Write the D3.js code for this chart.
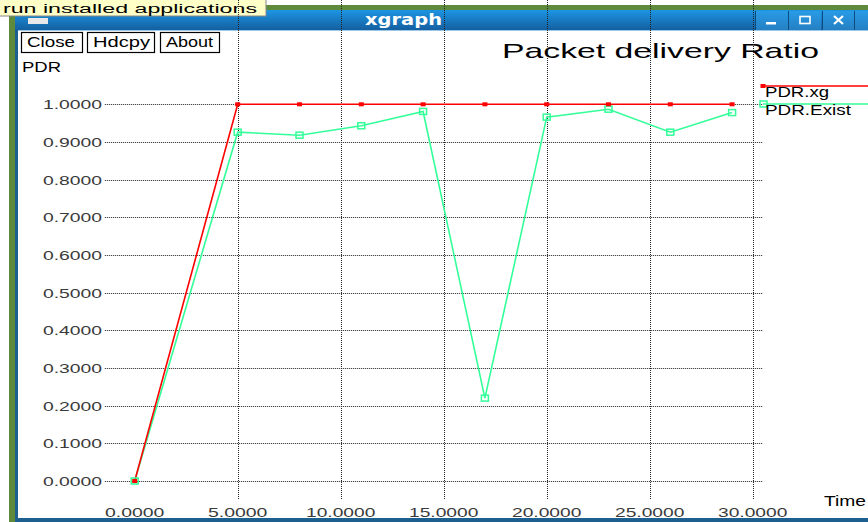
<!DOCTYPE html>
<html>
<head>
<meta charset="utf-8">
<script src="https://cdn.jsdelivr.net/npm/d3@7/dist/d3.min.js"></script>
<style>
body { margin: 0; background: #fff; }
svg { display: block; }
</style>
</head>
<body>
<div id="chart"></div>
<script>
// data
var timeVals = [0, 5, 8, 11, 14, 17, 20, 23, 26, 29];
var pdrXg = [0, 1, 1, 1, 1, 1, 1, 1, 1, 1];
var pdrExist = [0, 0.926, 0.918, 0.943, 0.981, 0.220, 0.966, 0.987, 0.926, 0.978];
var xTicks = [0, 5, 10, 15, 20, 25, 30];
var yTicks = [0, 0.1, 0.2, 0.3, 0.4, 0.5, 0.6, 0.7, 0.8, 0.9, 1.0];
var seriesNames = ["PDR.xg", "PDR.Exist"];
var seriesColors = ["#ff0000", "#33ff99"];
var buttonNames = ["Close", "Hdcpy", "About"];

var W = 868, H = 522;

var svg = d3.select("#chart")
  .append("svg")
  .attr("width", W)
  .attr("height", H);

// xgraph fonts look wide, so texts get stretched to the width seen
function fit(sel, w) {
  sel.attr("textLength", w).attr("lengthAdjust", "spacingAndGlyphs");
  return sel;
}

// ---- window chrome ----
svg.append("rect").attr("x", 0).attr("y", 0).attr("width", W).attr("height", H).attr("fill", "#fff");
svg.append("rect").attr("x", 0).attr("y", 5).attr("width", W).attr("height", 5).attr("fill", "#5f8a3c");
svg.append("rect").attr("x", 9).attr("y", 5).attr("width", 7).attr("height", H).attr("fill", "#5f8a3c");
svg.append("rect").attr("x", 15).attr("y", 10).attr("width", 3).attr("height", H).attr("fill", "#1d5f8e");

var grad = svg.append("defs").append("linearGradient")
  .attr("id", "tbar").attr("x1", 0).attr("y1", 0).attr("x2", 0).attr("y2", 1);
grad.append("stop").attr("offset", "0%").attr("stop-color", "#1c95e4");
grad.append("stop").attr("offset", "100%").attr("stop-color", "#145d9c");

svg.append("rect").attr("x", 15).attr("y", 10).attr("width", W - 15).attr("height", 21).attr("fill", "url(#tbar)");
svg.append("rect").attr("x", 18).attr("y", 30).attr("width", W - 18).attr("height", 1).attr("fill", "#9cc8e8");
svg.append("rect").attr("x", 28).attr("y", 18).attr("width", 20).attr("height", 6).attr("fill", "#e8e8e8");

fit(svg.append("text")
  .attr("x", 365).attr("y", 25)
  .attr("font-family", "DejaVu Sans").attr("font-weight", "bold")
  .attr("font-size", 15).attr("fill", "#fff")
  .text("xgraph"), 77);

// title bar buttons
var tbBtns = [755, 788, 822, 854];
tbBtns.forEach(function (x) {
  svg.append("rect").attr("x", x).attr("y", 11).attr("width", 1).attr("height", 19).attr("fill", "#0d4a7e");
  svg.append("rect").attr("x", x + 1).attr("y", 11).attr("width", 32).attr("height", 19).attr("fill", "#3aa6ee").attr("opacity", 0.45);
});
svg.append("rect").attr("x", 766).attr("y", 22).attr("width", 10).attr("height", 2.5).attr("fill", "#fff");
svg.append("rect").attr("x", 800).attr("y", 16.5).attr("width", 10).attr("height", 7).attr("fill", "none").attr("stroke", "#fff").attr("stroke-width", 1.6);
svg.append("path").attr("d", "M834,16L843,24M843,16L834,24").attr("stroke", "#fff").attr("stroke-width", 2.2);

// tooltip stuck at top-left
svg.append("rect").attr("x", -2).attr("y", -2).attr("width", 268).attr("height", 18)
  .attr("fill", "#ffffc8").attr("stroke", "#888").attr("stroke-width", 1);
fit(svg.append("text")
  .attr("x", 3).attr("y", 12.5)
  .attr("font-family", "Liberation Sans").attr("font-size", 12.5).attr("fill", "#000")
  .text("run installed applications"), 254);

// bottom border
svg.append("rect").attr("x", 15).attr("y", 518).attr("width", W - 15).attr("height", 4).attr("fill", "#1d5f8e");

// ---- buttons ----
var btnX = [21, 87, 160], btnW = [61, 67, 59], btnTW = [48, 57, 47];
buttonNames.forEach(function (name, i) {
  svg.append("rect").attr("x", btnX[i] + 0.5).attr("y", 32.5).attr("width", btnW[i]).attr("height", 20)
    .attr("fill", "#fff").attr("stroke", "#000").attr("stroke-width", 1.2);
  fit(svg.append("text")
    .attr("x", btnX[i] + 6).attr("y", 47)
    .attr("font-family", "Liberation Sans").attr("font-size", 14).attr("fill", "#000")
    .text(name), btnTW[i]);
});

fit(svg.append("text")
  .attr("x", 22).attr("y", 72)
  .attr("font-family", "Liberation Sans").attr("font-size", 14).attr("fill", "#000")
  .text("PDR"), 39);

fit(svg.append("text")
  .attr("x", 502).attr("y", 58)
  .attr("font-family", "Liberation Sans").attr("font-size", 21).attr("fill", "#000")
  .text("Packet delivery Ratio"), 317);

// ---- plot ----
var x = d3.scaleLinear().domain([0, 30]).range([134.7, 752.7]);
var y = d3.scaleLinear().domain([0, 1]).range([481, 104.3]);

var left = x(-1.45), right = x(30.5), top = y(1.0485), bottom = y(-0.05);
var dots = "1,1";

var grid = svg.append("g").attr("stroke", "#222").attr("stroke-width", 1).attr("stroke-dasharray", dots).attr("fill", "none");

grid.selectAll(".hg").data(yTicks).enter().append("line")
  .attr("x1", left).attr("x2", right)
  .attr("y1", function (d) { return Math.round(y(d)) + 0.5; })
  .attr("y2", function (d) { return Math.round(y(d)) + 0.5; });

grid.selectAll(".vg").data(xTicks.filter(function (d) { return d > 0; })).enter().append("line")
  .attr("y1", top).attr("y2", bottom)
  .attr("x1", function (d) { return Math.round(x(d)) + 0.5; })
  .attr("x2", function (d) { return Math.round(x(d)) + 0.5; });

grid.append("rect")
  .attr("x", Math.round(left) + 0.5).attr("y", Math.round(top) + 0.5)
  .attr("width", Math.round(right - left)).attr("height", Math.round(bottom - top));

var fmt = d3.format(".4f");

svg.selectAll(".ylab").data(yTicks).enter().append("text")
  .attr("x", 102).attr("y", function (d) { return y(d) + 5; })
  .attr("text-anchor", "end")
  .attr("font-family", "Liberation Sans").attr("font-size", 13.5).attr("fill", "#3a3a3a")
  .text(function (d) { return fmt(d); })
  .attr("textLength", function (d) { return fmt(d).length * 9.85; })
  .attr("lengthAdjust", "spacingAndGlyphs");

svg.selectAll(".xlab").data(xTicks).enter().append("text")
  .attr("x", function (d) { return x(d); }).attr("y", 517)
  .attr("text-anchor", "middle")
  .attr("font-family", "Liberation Sans").attr("font-size", 13.5).attr("fill", "#3a3a3a")
  .text(function (d) { return fmt(d); })
  .attr("textLength", function (d) { return fmt(d).length * 9.9; })
  .attr("lengthAdjust", "spacingAndGlyphs");

fit(svg.append("text")
  .attr("x", 824).attr("y", 506)
  .attr("font-family", "Liberation Sans").attr("font-size", 14).attr("fill", "#000")
  .text("Time"), 42);

// series
var series = [pdrXg, pdrExist];
var line = d3.line()
  .x(function (d, i) { return x(timeVals[i]); })
  .y(function (d) { return y(d); });

// green drawn first, red on top
[1, 0].forEach(function (s) {
  svg.append("path")
    .datum(series[s])
    .attr("d", line)
    .attr("fill", "none")
    .attr("stroke", seriesColors[s])
    .attr("stroke-width", 1.6);
});

svg.selectAll(".gm").data(pdrExist).enter().append("rect")
  .attr("x", function (d, i) { return x(timeVals[i]) - 3.5; })
  .attr("y", function (d) { return y(d) - 3; })
  .attr("width", 7).attr("height", 6)
  .attr("fill", "none").attr("stroke", seriesColors[1]).attr("stroke-width", 1.5);

svg.selectAll(".rm").data(pdrXg).enter().append("rect")
  .attr("x", function (d, i) { return x(timeVals[i]) - 2.5; })
  .attr("y", function (d) { return y(d) - 2; })
  .attr("width", 5).attr("height", 4)
  .attr("fill", seriesColors[0]);

// legend on the right
var legY = [86, 104], legTY = [97, 115], legTW = [64, 86];
seriesNames.forEach(function (name, i) {
  svg.append("line")
    .attr("x1", 763).attr("x2", W)
    .attr("y1", legY[i]).attr("y2", legY[i])
    .attr("stroke", seriesColors[i]).attr("stroke-width", 1.6);
  if (i === 0) {
    svg.append("rect").attr("x", 760.5).attr("y", legY[i] - 2).attr("width", 5).attr("height", 4).attr("fill", seriesColors[i]);
  } else {
    svg.append("rect").attr("x", 760).attr("y", legY[i] - 3).attr("width", 7).attr("height", 6)
      .attr("fill", "none").attr("stroke", seriesColors[i]).attr("stroke-width", 1.5);
  }
  fit(svg.append("text")
    .attr("x", 765).attr("y", legTY[i])
    .attr("font-family", "Liberation Sans").attr("font-size", 14).attr("fill", "#000")
    .text(name), legTW[i]);
});
</script>
</body>
</html>
